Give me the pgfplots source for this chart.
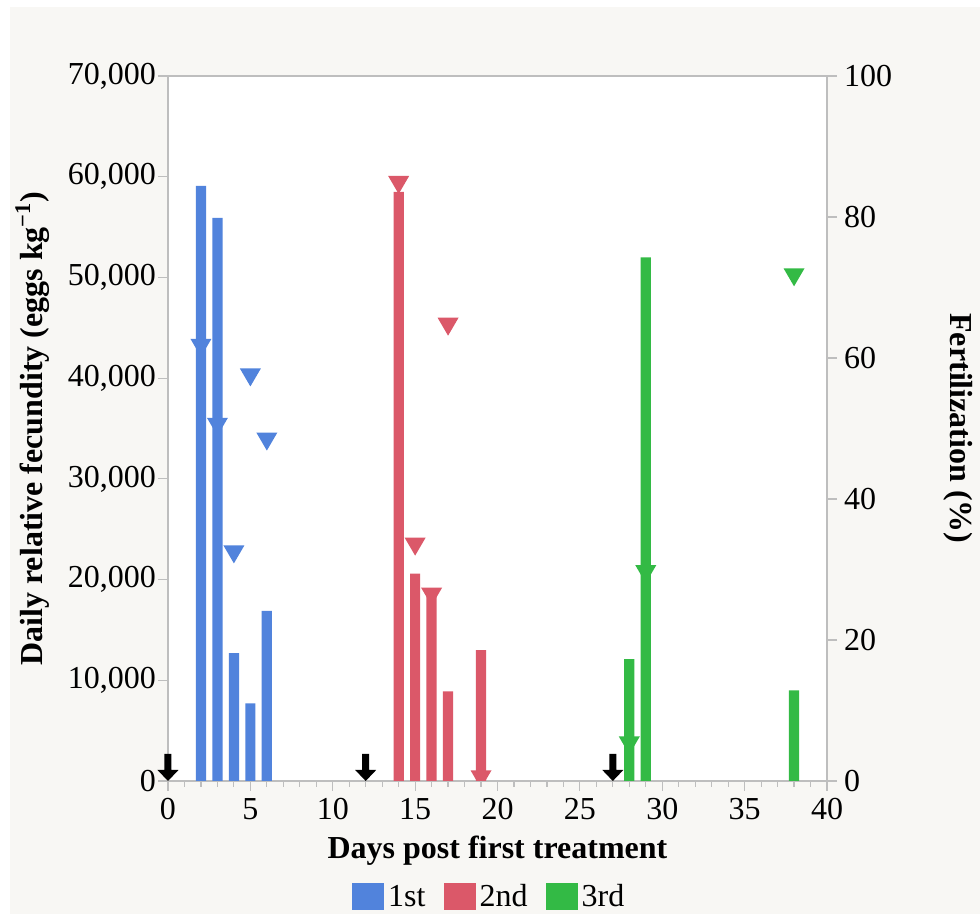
\documentclass[border=0pt]{standalone}
\usepackage{fontspec}
\setmainfont{Liberation Serif}
\usepackage{pgfplots}
\pgfplotsset{compat=1.18}

\definecolor{bgbeige}{RGB}{248,247,244}
\definecolor{framegray}{RGB}{190,190,190}
\definecolor{blueC}{RGB}{81,131,220}
\definecolor{redC}{RGB}{219,88,105}
\definecolor{greenC}{RGB}{51,186,69}

% downward block arrow marking a treatment day; tip sits on the data point
\pgfdeclareplotmark{darrow}{%
  \pgfpathmoveto{\pgfpoint{0pt}{0pt}}%
  \pgfpathlineto{\pgfpoint{5.25pt}{5.5pt}}%
  \pgfpathlineto{\pgfpoint{1.75pt}{5.5pt}}%
  \pgfpathlineto{\pgfpoint{1.75pt}{13.5pt}}%
  \pgfpathlineto{\pgfpoint{-1.75pt}{13.5pt}}%
  \pgfpathlineto{\pgfpoint{-1.75pt}{5.5pt}}%
  \pgfpathlineto{\pgfpoint{-5.25pt}{5.5pt}}%
  \pgfpathclose\pgfusepathqfill}
% downward triangle centred on its bounding box
\pgfdeclareplotmark{dtri}{%
  \pgfpathmoveto{\pgfpoint{-5.25pt}{5.35pt}}%
  \pgfpathlineto{\pgfpoint{5.25pt}{5.35pt}}%
  \pgfpathlineto{\pgfpoint{0pt}{-3.65pt}}%
  \pgfpathclose\pgfusepathqfill}

\newcommand{\tickfont}{\fontsize{16}{19}\selectfont}
\newcommand{\labfont}{\bfseries\fontsize{16}{19}\selectfont}

\pgfplotsset{
  panel/.style={
    scale only axis, width=329.5pt, height=352.5pt,
    at={(84pt,66.5pt)}, anchor=south west,
    xmin=0, xmax=40,
    axis line style={draw=framegray, line width=0.6pt},
    tick style={draw=framegray, line width=0.6pt},
    tick align=outside,
    major tick length=5pt, minor tick length=3pt,
    tick label style={font=\tickfont},
    /pgf/number format/assume math mode=true,
  },
}

\begin{document}
\begin{tikzpicture}
\useasboundingbox (0pt,0pt) rectangle (490pt,457pt);
\fill[white] (0pt,0pt) rectangle (490pt,457pt);
\fill[bgbeige] (5pt,0pt) rectangle (490pt,453.5pt);
\clip (0pt,0pt) rectangle (490pt,457pt);

% fecundity (left axis): bars and treatment arrows
\begin{axis}[panel,
  axis background/.style={fill=white},
  ymin=0, ymax=70000,
  xtick={0,5,...,40}, minor x tick num=4,
  xtick pos=bottom, ytick pos=left,
  ytick={0,10000,...,70000},
  scaled y ticks=false,
  yticklabel style={xshift=2.5pt, /pgf/number format/.cd, fixed, 1000 sep={,}},
  xlabel={Days post first treatment},
  ylabel={Daily relative fecundity (eggs kg\textsuperscript{−1})},
  every axis x label/.style={at={(axis description cs:0.5,-0.0993)}, anchor=center, font=\labfont},
  every axis y label/.style={at={(axis description cs:-0.2056,0.5)}, rotate=90, anchor=center, font=\labfont},
  legend columns=3,
  legend style={at={(axis description cs:0.489,-0.1645)}, anchor=center,
    draw=none, fill=none, font=\tickfont,
    /tikz/every even column/.style={column sep=7pt},
    inner sep=0pt},
  clip=false,
]
\addplot[ybar, bar width=0.62, bar shift=0pt, fill=blueC, draw=none,
  legend image code/.code={\fill[blueC] (0pt,-6.5pt) rectangle (16pt,7pt);}]
  coordinates {(2,59100) (3,55900) (4,12700) (5,7700) (6,16900)};
\addlegendentry{1st}
\addplot[ybar, bar width=0.62, bar shift=0pt, fill=redC, draw=none,
  legend image code/.code={\fill[redC] (0pt,-6.5pt) rectangle (16pt,7pt);}]
  coordinates {(14,58500) (15,20600) (16,18300) (17,8900) (19,13000)};
\addlegendentry{2nd}
\addplot[ybar, bar width=0.62, bar shift=0pt, fill=greenC, draw=none,
  legend image code/.code={\fill[greenC] (0pt,-6.5pt) rectangle (16pt,7pt);}]
  coordinates {(28,12100) (29,52000) (38,9000)};
\addlegendentry{3rd}
\addplot[only marks, mark=darrow, black, forget plot]
  coordinates {(0,0) (12,0) (27,0)};
\end{axis}

% fertilization (right axis): triangles
\begin{axis}[panel,
  ymin=0, ymax=100,
  axis x line=none,
  axis y line*=right,
  ytick={0,20,...,100},
  ylabel={Fertilization (\%)},
  every axis y label/.style={at={(axis description cs:1.1995,0.5)}, rotate=-90, anchor=center, font=\labfont},
  clip marker paths=true,
]
\addplot[only marks, mark=dtri, color=blueC]
  coordinates {(2,61.2) (3,50.0) (4,31.9) (5,57.0) (6,47.9)};
\addplot[only marks, mark=dtri, color=redC]
  coordinates {(14,84.3) (15,33.0) (16,25.9) (17,64.2) (19,0)};
\addplot[only marks, mark=dtri, color=greenC]
  coordinates {(28,4.8) (29,29.1) (38,71.2)};
\end{axis}
\end{tikzpicture}
\end{document}
